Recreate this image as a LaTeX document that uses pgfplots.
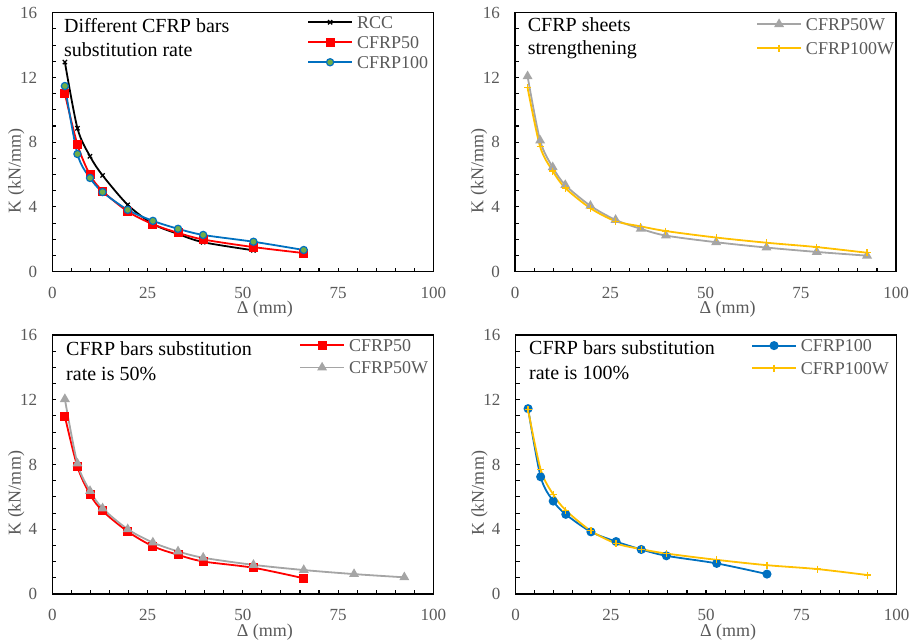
\documentclass[border=0pt]{standalone}
\usepackage{fontspec}
\setmainfont{Liberation Serif}
\usepackage{pgfplots}
\pgfplotsset{compat=1.18}
\definecolor{tgray}{HTML}{595959}
\definecolor{cblue}{HTML}{0070C0}
\definecolor{cgreen}{HTML}{70AD47}
\definecolor{cgrey}{HTML}{A5A5A5}
\definecolor{cgold}{HTML}{FFC000}
\definecolor{cred}{HTML}{FF0000}

\tikzset{ttl/.style={anchor=base west, font=\fontsize{20}{20}\selectfont, text=black, inner sep=0pt}}
\pgfplotsset{
  panel/.style={
    scale only axis, width=381pt, height=259pt,
    xmin=0, xmax=100, ymin=0, ymax=16,
    xtick={0,25,...,100}, ytick={0,4,...,16},
    minor x tick num=4, minor y tick num=3,
    tick align=inside, tick pos=left,
    major tick length=4pt, minor tick length=4pt,
    axis line style={line width=1.3pt},
    every tick/.style={black, line width=1.1pt},
    /pgf/number format/assume math mode=true,
    ticklabel style={font=\fontsize{17}{17}\selectfont, text=tgray},
    xticklabel style={anchor=north, inner sep=0pt, yshift=-15pt},
    yticklabel style={anchor=east, inner sep=0pt, xshift=-15pt},
    xlabel={Δ (mm)}, ylabel={K (kN/mm)},
    xlabel style={at={(axis description cs:0.558,-0.146)}, anchor=center, inner sep=0pt, font=\fontsize{18}{18}\selectfont, text=tgray},
    ylabel style={at={(axis description cs:-0.0945,0.389)}, anchor=center, inner sep=0pt, font=\fontsize{18}{18}\selectfont, text=tgray},
    legend style={draw=none, fill=none, inner sep=0pt, anchor=north west,
      font=\fontsize{18}{18}\selectfont, text=tgray,
      nodes={inner sep=0pt, text height=12pt, text depth=0pt},
      /tikz/every odd column/.append style={column sep=4pt}},
    legend cell align=left,
    legend image code/.code={\draw[mark repeat=2,mark phase=2,#1] plot coordinates {(0pt,0pt) (22pt,0pt) (44pt,0pt)};},
  },
  sRCC/.style={black, line width=1.8pt, smooth, mark=x, mark size=3pt, mark options={line width=1.3pt}},
  sC50/.style={cred, line width=1.8pt, smooth, mark=square*, mark size=3.6pt, mark options={fill=cred}},
  sC100/.style={cblue, line width=1.8pt, smooth, mark=*, mark size=3.6pt, mark options={fill=cgreen, draw=cblue, line width=1.2pt}},
  sC100b/.style={cblue, line width=1.8pt, smooth, mark=*, mark size=3.6pt, mark options={fill=cblue}},
  sC50W/.style={cgrey, line width=1.8pt, smooth, mark=triangle*, mark size=4pt, mark options={fill=cgrey}},
  sC100W/.style={cgold, line width=1.8pt, smooth, mark=+, mark size=3.5pt, mark options={line width=1.2pt}},
}

\begin{document}
\begin{tikzpicture}
\useasboundingbox (0,0) rectangle (915pt,642pt);

% Panel 1
\begin{axis}[panel, at={(52.3pt,370.3pt)}, anchor=south west,
  legend style={at={(axis description cs:0.6685,0.987)}, row sep=8pt}]
\addplot[sRCC] coordinates {(3.3,12.95) (6.6,8.86) (9.9,7.13) (13.2,5.95) (19.8,4.13) (26.4,2.95) (33,2.33) (39.6,1.82) (52.8,1.32)};
\addlegendentry{RCC}
\addplot[sC50] coordinates {(3.3,11.0) (6.6,7.85) (9.9,5.98) (13.2,4.98) (19.8,3.72) (26.4,2.93) (33,2.4) (39.6,1.99) (52.8,1.52) (66,1.15)};
\addlegendentry{CFRP50}
\addplot[sC100] coordinates {(3.3,11.47) (6.6,7.27) (9.9,5.79) (13.2,4.92) (19.8,3.82) (26.4,3.14) (33,2.65) (39.6,2.27) (52.8,1.85) (66,1.34)};
\addlegendentry{CFRP100}
\node[ttl] at (axis description cs:0.0307,0.9228) {Different CFRP bars};
\node[ttl] at (axis description cs:0.0307,0.830) {substitution rate};
\end{axis}

% Panel 2
\begin{axis}[panel, at={(515pt,370.3pt)}, anchor=south west,
  legend style={at={(axis description cs:0.6325,0.9795)}, row sep=12pt}]
\addplot[sC50W] coordinates {(3.3,12.07) (6.6,8.1) (9.9,6.45) (13.2,5.35) (19.8,4.07) (26.4,3.2) (33,2.65) (39.6,2.23) (52.8,1.82) (66,1.49) (79.2,1.22) (92.4,0.99)};
\addlegendentry{CFRP50W}
\addplot[sC100W] coordinates {(3.3,11.37) (6.6,7.72) (9.9,6.22) (13.2,5.17) (19.8,3.92) (26.4,3.12) (33,2.8) (39.6,2.51) (52.8,2.11) (66,1.79) (79.2,1.52) (92.4,1.17)};
\addlegendentry{CFRP100W}
\node[ttl] at (axis description cs:0.0333,0.9266) {CFRP sheets};
\node[ttl] at (axis description cs:0.0333,0.8367) {strengthening};
\end{axis}

% Panel 3
\begin{axis}[panel, at={(52.3pt,48pt)}, anchor=south west,
  legend style={at={(axis description cs:0.6475,0.985)}, row sep=10.5pt}]
\addplot[sC50] coordinates {(3.3,10.97) (6.6,7.86) (9.9,6.15) (13.2,5.13) (19.8,3.86) (26.4,2.95) (33,2.42) (39.6,2.01) (52.8,1.62) (66,0.97)};
\addlegendentry{CFRP50}
\addplot[sC50W] coordinates {(3.3,12.04) (6.6,8.06) (9.9,6.36) (13.2,5.29) (19.8,4.0) (26.4,3.18) (33,2.63) (39.6,2.24) (52.8,1.8) (66,1.48) (79.2,1.23) (92.4,1.03)};
\addlegendentry{CFRP50W}
\node[ttl] at (axis description cs:0.036,0.919) {CFRP bars substitution};
\node[ttl] at (axis description cs:0.036,0.826) {rate is 50\%};
\end{axis}

% Panel 4
\begin{axis}[panel, at={(515.5pt,48pt)}, anchor=south west,
  legend style={at={(axis description cs:0.618,0.983)}, row sep=10.5pt}]
\addplot[sC100b] coordinates {(3.3,11.45) (6.6,7.24) (9.9,5.74) (13.2,4.92) (19.8,3.84) (26.4,3.24) (33,2.75) (39.6,2.36) (52.8,1.89) (66,1.23)};
\addlegendentry{CFRP100}
\addplot[sC100W] coordinates {(3.3,11.38) (6.6,7.69) (9.9,6.15) (13.2,5.17) (19.8,3.9) (26.4,3.12) (33,2.77) (39.6,2.5) (52.8,2.11) (66,1.78) (79.2,1.54) (92.4,1.17)};
\addlegendentry{CFRP100W}
\node[ttl] at (axis description cs:0.0354,0.923) {CFRP bars substitution};
\node[ttl] at (axis description cs:0.0354,0.827) {rate is 100\%};
\end{axis}
\end{tikzpicture}
\end{document}
